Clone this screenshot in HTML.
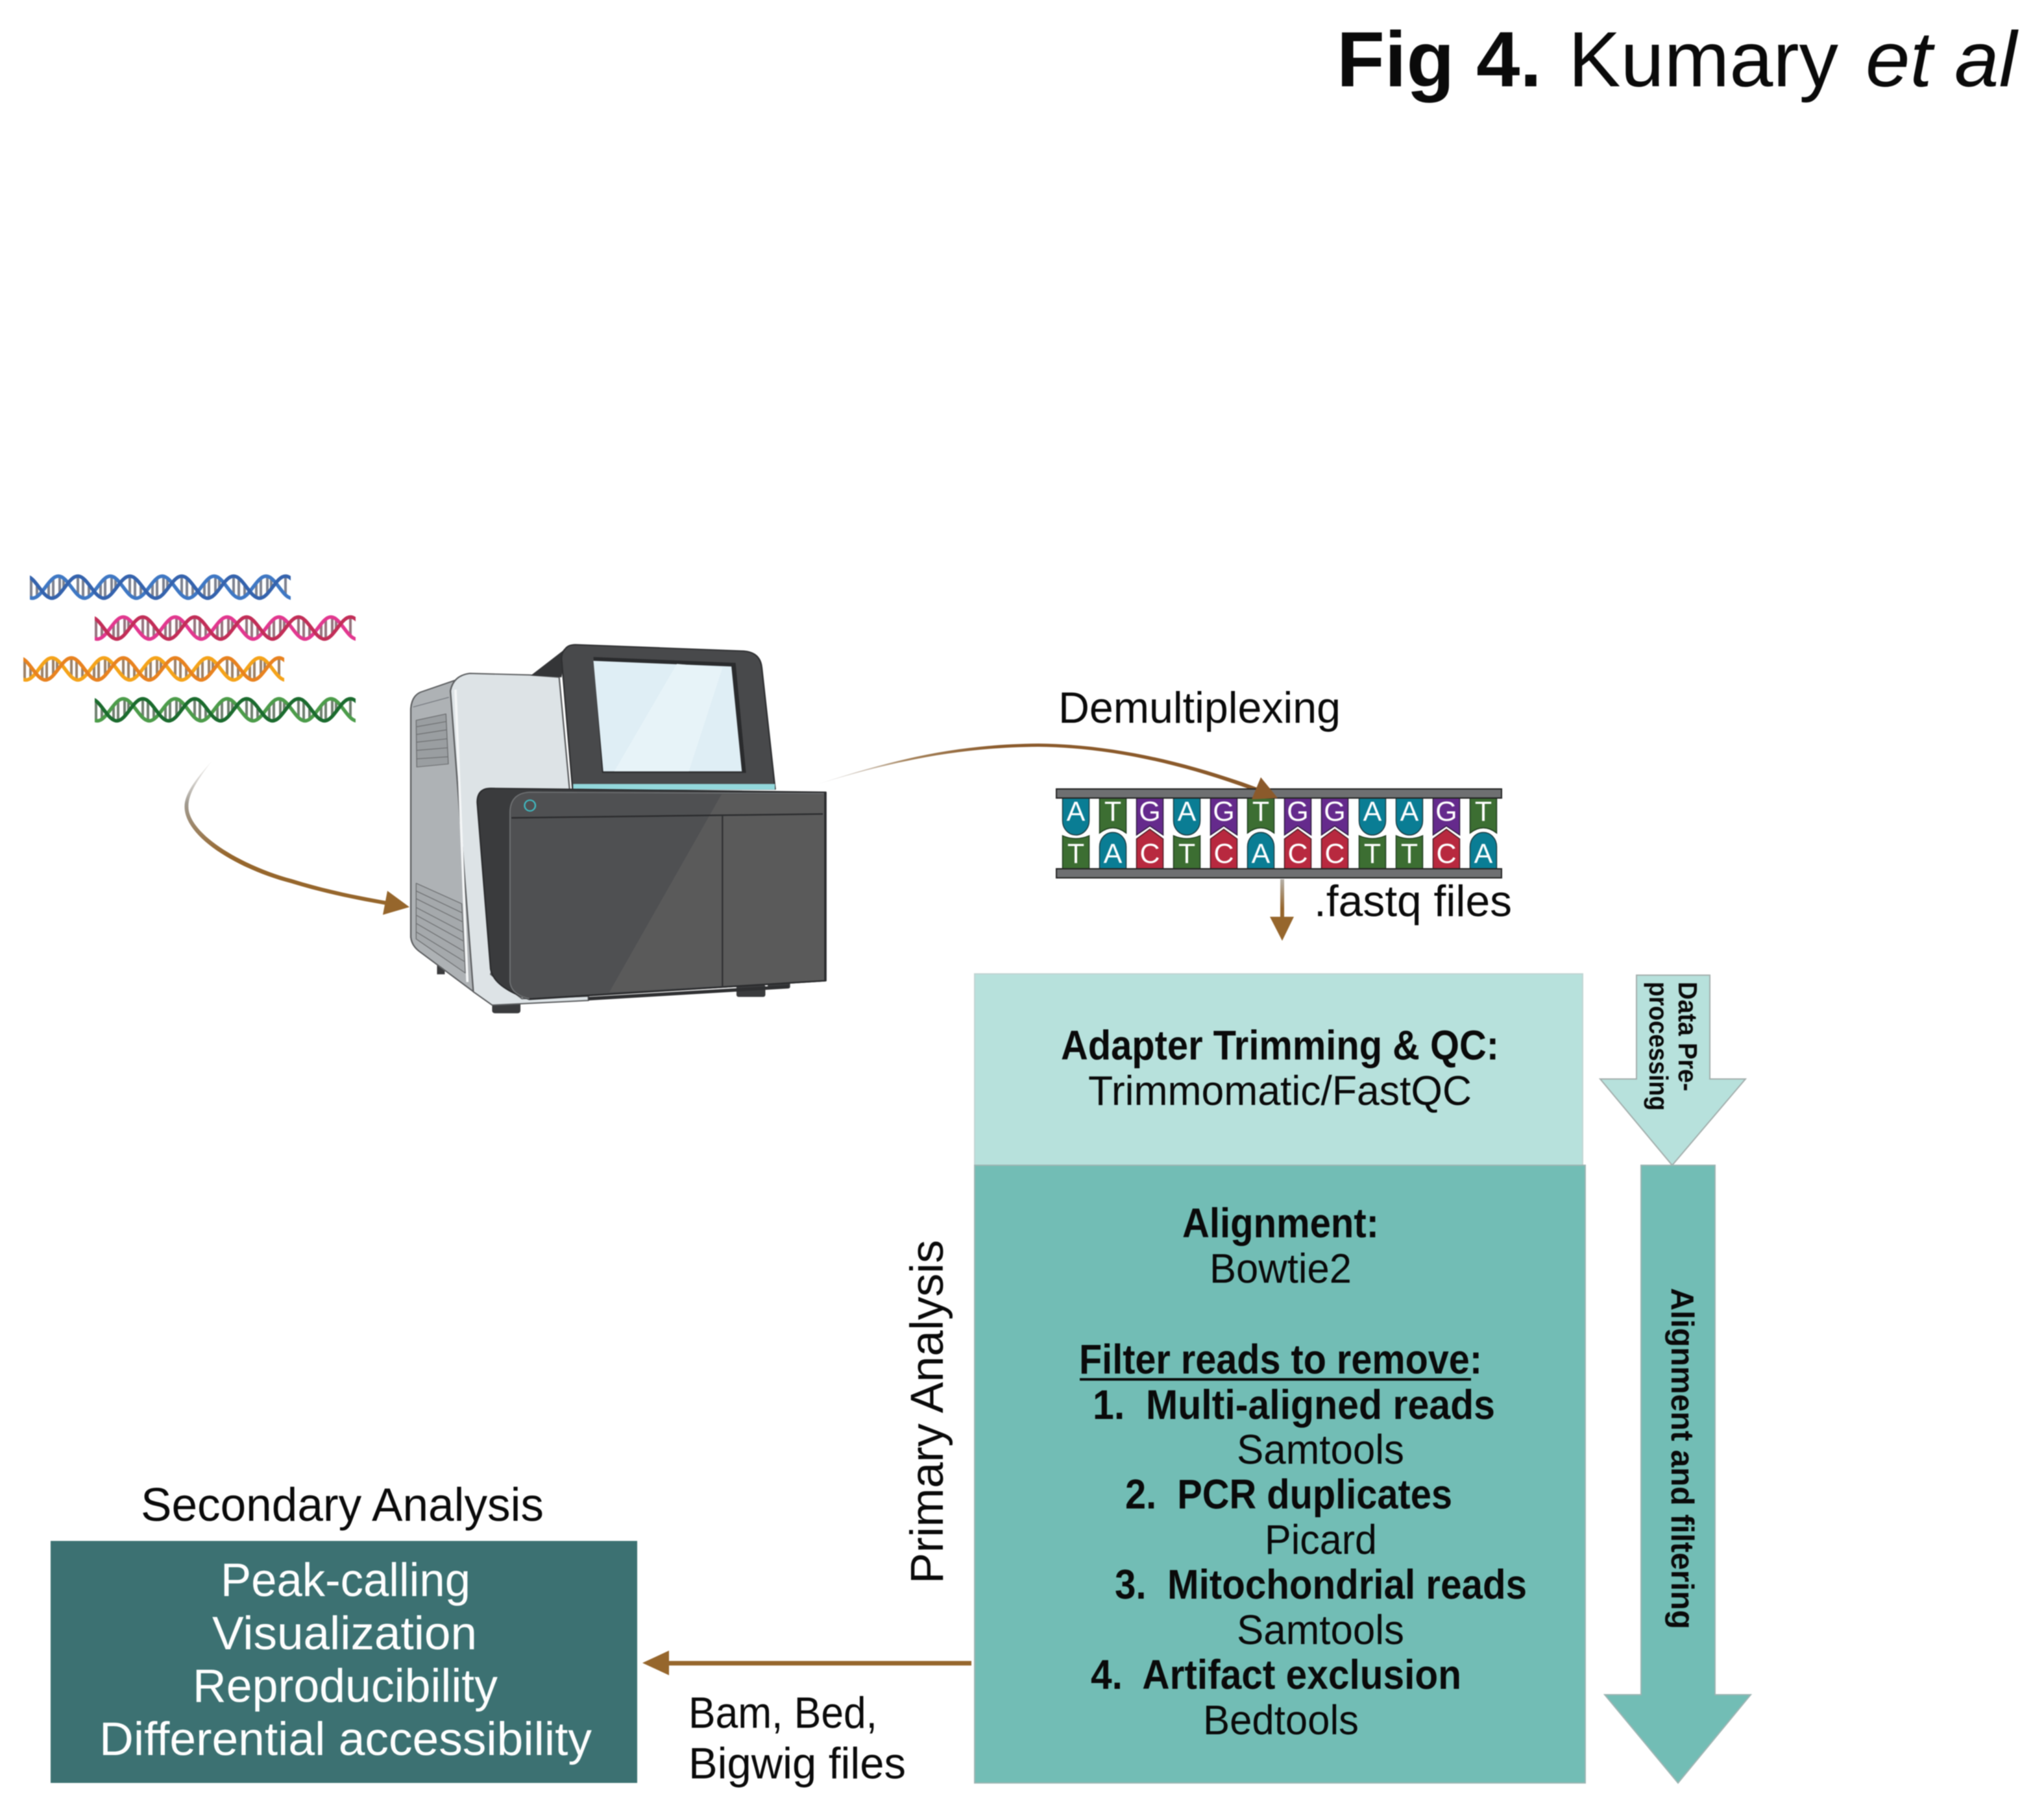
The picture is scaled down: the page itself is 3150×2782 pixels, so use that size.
<!DOCTYPE html>
<html><head><meta charset="utf-8"><title>Fig 4. Kumary et al</title>
<style>html,body{margin:0;padding:0;background:#fff}svg{display:block;filter:blur(.7px)}
text{font-family:"Liberation Sans",sans-serif;fill:#0a0a0a}
.b{font-weight:bold}
.w{fill:#fff}
.n{fill:#fff;font-size:43px;text-anchor:middle}
</style></head><body>
<svg xmlns="http://www.w3.org/2000/svg" width="3150" height="2782" viewBox="0 0 3150 2782">
<defs>
<clipPath id="hc"><rect x="0" y="-21" width="402" height="42"/></clipPath>
<path id="s1" d="M-36 -17C-21.3 -17 -10.7 17 4 17S29.3 -17 44 -17S69.3 17 84 17S109.3 -17 124 -17S149.3 17 164 17S189.3 -17 204 -17S229.3 17 244 17S269.3 -17 284 -17S309.3 17 324 17S349.3 -17 364 -17S389.3 17 404 17S429.3 -17 444 -17"/>
<path id="s2" d="M-6 -17C8.7 -17 19.3 17 34 17S59.3 -17 74 -17S99.3 17 114 17S139.3 -17 154 -17S179.3 17 194 17S219.3 -17 234 -17S259.3 17 274 17S299.3 -17 314 -17S339.3 17 354 17S379.3 -17 394 -17S419.3 17 434 17"/>
<path id="per" d="M2 -13.8V16.8M11 -4V14.5M29 -6.5V15.7M36 -13.8V16.8M46 -16.8V10M52 -13.8V2.7M74 -17V12"/>
<g id="ru"><use href="#per"/><use href="#per" x="80"/><use href="#per" x="160"/><use href="#per" x="240"/><use href="#per" x="320"/></g>
<linearGradient id="g1" gradientUnits="userSpaceOnUse" x1="326" y1="1173" x2="345" y2="1320"><stop offset="0" stop-color="#d0ccc8" stop-opacity=".3"/><stop offset=".4" stop-color="#a09a90"/><stop offset="1" stop-color="#96662c"/></linearGradient>
<linearGradient id="g2" gradientUnits="userSpaceOnUse" x1="1259" y1="1209" x2="1540" y2="1150"><stop offset="0" stop-color="#ccc" stop-opacity=".4"/><stop offset=".5" stop-color="#a5835c"/><stop offset="1" stop-color="#8b5a2b"/></linearGradient>
<linearGradient id="g3" gradientUnits="userSpaceOnUse" x1="1976" y1="1355" x2="1976" y2="1400"><stop offset="0" stop-color="#b5b0a8"/><stop offset="1" stop-color="#96662c"/></linearGradient>
<path id="tA" d="M-20.5 1230V1265A20.5 22 0 0 0 20.5 1265V1230Z" fill="#0a7d94" stroke="#1c3a40" stroke-width="1.5"/>
<path id="tT" d="M-20.5 1230V1284Q0 1268 20.5 1284V1230Z" fill="#3c6e32" stroke="#1c3a1c" stroke-width="1.5"/>
<path id="tG" d="M-20.5 1230V1287L0 1273L20.5 1287V1230Z" fill="#652a8c" stroke="#2c1a3c" stroke-width="1.5"/>
<path id="bT" d="M-20.5 1339V1288Q0 1297 20.5 1288V1339Z" fill="#3c6e32" stroke="#1c3a1c" stroke-width="1.5"/>
<path id="bA" d="M-20.5 1339V1305A20.5 22 0 0 1 20.5 1305V1339Z" fill="#0a7d94" stroke="#1c3a40" stroke-width="1.5"/>
<path id="bC" d="M-20.5 1339V1293L0 1278L20.5 1293V1339Z" fill="#b8293f" stroke="#4a1a22" stroke-width="1.5"/>
</defs>

<rect width="3150" height="2782" fill="#fff"/>

<!-- Title -->
<text x="2060" y="133" font-size="121" class="b" textLength="316" lengthAdjust="spacingAndGlyphs">Fig 4.</text>
<text x="2417" y="133" font-size="121" textLength="416" lengthAdjust="spacingAndGlyphs">Kumary</text>
<text x="2875" y="133" font-size="121" font-style="italic" textLength="233" lengthAdjust="spacingAndGlyphs">et al</text>

<!-- DNA helices -->
<g fill="none" stroke-width="5.5" stroke-linecap="round">
<g transform="translate(46,905)"><g clip-path="url(#hc)"><use href="#ru" stroke="#7d8290" stroke-width="4"/><use href="#s1" stroke="#3f78c4"/><use href="#s2" stroke="#3563ad"/></g></g>
<g transform="translate(146,968)"><g clip-path="url(#hc)"><use href="#ru" stroke="#96737e" stroke-width="4"/><use href="#s1" stroke="#e2388f"/><use href="#s2" stroke="#c22e58"/></g></g>
<g transform="translate(36,1031)"><g clip-path="url(#hc)"><use href="#ru" stroke="#9c8268" stroke-width="4"/><use href="#s1" stroke="#f5a31a"/><use href="#s2" stroke="#e8821f"/></g></g>
<g transform="translate(146,1094)"><g clip-path="url(#hc)"><use href="#ru" stroke="#6f806f" stroke-width="4"/><use href="#s1" stroke="#4c9c4a"/><use href="#s2" stroke="#1b6b2e"/></g></g>
</g>

<!-- Arrow DNA to sequencer -->
<path d="M326.5 1173C298 1205 281 1228 285 1250C293 1298 378 1343 448 1361C500 1377 550 1387 596 1395L597 1389C551 1381 501 1371 450 1355C382 1337 300 1293 291 1250C287 1228 302 1205 326.5 1173Z" fill="url(#g1)"/>
<polygon points="597,1373 631,1398 590,1410" fill="#96662c"/>

<!-- Sequencer -->
<g transform="translate(600,960) scale(.4592,.3954)" stroke-linejoin="round">
<rect x="345" y="1470" width="95" height="52" rx="10" fill="#3a3b3d"/>
<rect x="160" y="1330" width="26" height="40" fill="#3a3b3d"/>
<rect x="1165" y="1410" width="97" height="48" rx="8" fill="#3a3b3d"/>
<rect x="1270" y="1395" width="75" height="30" rx="6" fill="#3a3b3d"/>
<path d="M72 335Q75 285 105 270L225 222L285 1440L100 1280Q75 1258 72 1225Z" fill="#aeb2b5" stroke="#5c5e60" stroke-width="5"/>
<path d="M80 328L200 290" stroke="#70747a" stroke-width="3" fill="none"/>
<path d="M205 265Q215 205 270 197L470 203L570 212L605 650L340 1370L445 1465L668 1455V1472L345 1490L282 1438Z" fill="#dde3e6" stroke="#5c5e60" stroke-width="5"/>
<path d="M222 260L262 1400" stroke="#f4f6f7" stroke-width="8" fill="none"/>
<polygon points="90,380 190,355 198,550 92,562" fill="#9a9ea1" stroke="#6c6e70" stroke-width="3"/>
<path d="M92 405L190 385M92 435L192 417M92 465L193 452M92 497L195 487M92 530L197 522" stroke="#6c6e70" stroke-width="3" fill="none"/>
<polygon points="90,1015 243,1095 255,1365 90,1232" fill="#a5a9ac" stroke="#6c6e70" stroke-width="3"/>
<path d="M90 1045L244 1130M90 1075L245 1165M91 1110L247 1205M91 1140L248 1240M91 1172L250 1280M91 1205L252 1320" stroke="#6c6e70" stroke-width="3" fill="none"/>
<polygon points="475,205 592,100 578,212" fill="#343537"/>
<path d="M590 102Q600 85 625 85L1190 110Q1245 115 1250 175L1295 648H615L578 140Q578 115 590 102Z" fill="#48494b" stroke="#2e2f31" stroke-width="5"/>
<polygon points="685,133 1162,156 1197,585 714,585" fill="#2a2b2d"/>
<polygon points="685,148 1148,170 1183,579 718,579" fill="#dfeef5"/>
<polygon points="965,160 1118,175 1005,579 755,579" fill="#e7f3f8"/>
<rect x="617" y="628" width="677" height="22" fill="#93d8dc"/>
<path d="M295 700Q295 645 340 645L1465 660V1395L470 1468Q350 1420 340 1350Z" fill="#3a3b3d" stroke="#2a2b2d" stroke-width="5"/>
<path d="M405 740Q405 665 470 660L1460 665V1395L470 1465Q410 1450 405 1400Z" fill="#4f5052" stroke="#707274" stroke-width="4"/>
<polygon points="1115,668 1458,668 1458,1393 738,1440" fill="#5a5a5a"/>
<path d="M410 760L1455 745" stroke="#2b2c2e" stroke-width="6" fill="none"/>
<path d="M1118 750V1416" stroke="#2f3032" stroke-width="5" fill="none"/>
<path d="M1462 662V1395L470 1466" stroke="#2b2c2e" stroke-width="6" fill="none"/>
<path d="M668 1458L1340 1412V1425L668 1472Z" fill="#2f3032"/>
<ellipse cx="472" cy="712" rx="18" ry="21" fill="none" stroke="#3fbcc4" stroke-width="5"/>
</g>

<!-- Arrow sequencer to fastq -->
<path d="M1259 1209C1380 1169 1480 1147 1600 1146C1720 1147 1840 1177 1951 1219L1949 1225C1840 1183 1720 1152 1600 1151C1480 1152 1380 1172 1259 1209Z" fill="url(#g2)"/>

<text x="1631" y="1114" font-size="68" textLength="435" lengthAdjust="spacingAndGlyphs">Demultiplexing</text>

<!-- DNA fragment -->
<use href="#tA" x="1658"/><use href="#tT" x="1715"/><use href="#tG" x="1772"/><use href="#tA" x="1829"/><use href="#tG" x="1886"/><use href="#tT" x="1943"/><use href="#tG" x="2000"/><use href="#tG" x="2057"/><use href="#tA" x="2115"/><use href="#tA" x="2172"/><use href="#tG" x="2229"/><use href="#tT" x="2286"/>
<use href="#bT" x="1658"/><use href="#bA" x="1715"/><use href="#bC" x="1772"/><use href="#bT" x="1829"/><use href="#bC" x="1886"/><use href="#bA" x="1943"/><use href="#bC" x="2000"/><use href="#bC" x="2057"/><use href="#bT" x="2115"/><use href="#bT" x="2172"/><use href="#bC" x="2229"/><use href="#bA" x="2286"/>
<rect x="1628" y="1216" width="686" height="14" fill="#6e6f71" stroke="#222" stroke-width="2"/>
<rect x="1628" y="1339" width="686" height="14" fill="#6e6f71" stroke="#222" stroke-width="2"/>
<polygon points="1943,1198 1969,1230 1929,1232" fill="#8b5a2b"/>
<text class="n" x="1658" y="1265">A</text><text class="n" x="1715" y="1265">T</text><text class="n" x="1772" y="1265">G</text><text class="n" x="1829" y="1265">A</text><text class="n" x="1886" y="1265">G</text><text class="n" x="1943" y="1265">T</text><text class="n" x="2000" y="1265">G</text><text class="n" x="2057" y="1265">G</text><text class="n" x="2115" y="1265">A</text><text class="n" x="2172" y="1265">A</text><text class="n" x="2229" y="1265">G</text><text class="n" x="2286" y="1265">T</text>
<text class="n" x="1658" y="1330">T</text><text class="n" x="1715" y="1330">A</text><text class="n" x="1772" y="1330">C</text><text class="n" x="1829" y="1330">T</text><text class="n" x="1886" y="1330">C</text><text class="n" x="1943" y="1330">A</text><text class="n" x="2000" y="1330">C</text><text class="n" x="2057" y="1330">C</text><text class="n" x="2115" y="1330">T</text><text class="n" x="2172" y="1330">T</text><text class="n" x="2229" y="1330">C</text><text class="n" x="2286" y="1330">A</text>

<!-- fastq arrow -->
<rect x="1973" y="1355" width="6" height="60" fill="url(#g3)"/>
<polygon points="1957,1413 1994,1413 1976,1450" fill="#96662c"/>
<text x="2025" y="1412" font-size="68" textLength="305" lengthAdjust="spacingAndGlyphs">.fastq files</text>

<!-- Boxes -->
<rect x="1502" y="1501" width="937" height="295" fill="#b7e1dc" stroke="#c0d4d2" stroke-width="2"/>
<rect x="1502" y="1796" width="941" height="952" fill="#72bdb5" stroke="#9cb4b2" stroke-width="2"/>

<text x="1635" y="1633" font-size="64" class="b" textLength="675" lengthAdjust="spacingAndGlyphs">Adapter Trimming &amp; QC:</text>
<text x="1677" y="1703" font-size="64" textLength="591" lengthAdjust="spacingAndGlyphs">Trimmomatic/FastQC</text>
<text x="1822" y="1907" font-size="64" class="b" textLength="303" lengthAdjust="spacingAndGlyphs">Alignment:</text>
<text x="1864" y="1977" font-size="64" textLength="219" lengthAdjust="spacingAndGlyphs">Bowtie2</text>
<text x="1663" y="2117" font-size="64" class="b" textLength="621" lengthAdjust="spacingAndGlyphs">Filter reads to remove:</text>
<rect x="1664" y="2124" width="603" height="4" fill="#0a0a0a"/>
<text x="1684" y="2187" font-size="64" class="b" textLength="620" lengthAdjust="spacingAndGlyphs" xml:space="preserve">1.  Multi-aligned reads</text>
<text x="1906" y="2256" font-size="64" textLength="258" lengthAdjust="spacingAndGlyphs">Samtools</text>
<text x="1734" y="2325" font-size="64" class="b" textLength="504" lengthAdjust="spacingAndGlyphs" xml:space="preserve">2.  PCR duplicates</text>
<text x="1949" y="2395" font-size="64" textLength="173" lengthAdjust="spacingAndGlyphs">Picard</text>
<text x="1718" y="2464" font-size="64" class="b" textLength="635" lengthAdjust="spacingAndGlyphs" xml:space="preserve">3.  Mitochondrial reads</text>
<text x="1906" y="2534" font-size="64" textLength="258" lengthAdjust="spacingAndGlyphs">Samtools</text>
<text x="1681" y="2603" font-size="64" class="b" textLength="571" lengthAdjust="spacingAndGlyphs" xml:space="preserve">4.  Artifact exclusion</text>
<text x="1854" y="2673" font-size="64" textLength="240" lengthAdjust="spacingAndGlyphs">Bedtools</text>

<text transform="translate(1453,2441) rotate(-90)" font-size="71" textLength="530" lengthAdjust="spacingAndGlyphs">Primary Analysis</text>

<!-- Side arrows -->
<polygon points="2522,1503 2635,1503 2635,1663 2690,1663 2577,1796 2466,1663 2522,1663" fill="#b7e1dc" stroke="#a3aeac" stroke-width="2"/>
<text transform="translate(2587,1513) rotate(90)" font-size="41" class="b" textLength="169" lengthAdjust="spacingAndGlyphs">Data Pre-</text>
<text transform="translate(2542,1513) rotate(90)" font-size="41" class="b" textLength="199" lengthAdjust="spacingAndGlyphs">processing</text>
<polygon points="2529,1796 2643,1796 2643,2612 2698,2612 2586,2748 2473,2612 2529,2612" fill="#72bdb5" stroke="#9cb4b2" stroke-width="2"/>
<text transform="translate(2576,1985) rotate(90)" font-size="49" class="b" textLength="526" lengthAdjust="spacingAndGlyphs">Alignment and filtering</text>

<!-- Secondary -->
<text x="217" y="2344" font-size="72" textLength="621" lengthAdjust="spacingAndGlyphs">Secondary Analysis</text>
<rect x="78" y="2375" width="904" height="373" fill="#3c7172"/>
<text class="w" x="340" y="2460" font-size="72" textLength="385" lengthAdjust="spacingAndGlyphs">Peak-calling</text>
<text class="w" x="327" y="2542" font-size="72" textLength="408" lengthAdjust="spacingAndGlyphs">Visualization</text>
<text class="w" x="297" y="2623" font-size="72" textLength="470" lengthAdjust="spacingAndGlyphs">Reproducibility</text>
<text class="w" x="153" y="2705" font-size="72" textLength="759" lengthAdjust="spacingAndGlyphs">Differential accessibility</text>

<!-- Bottom arrow -->
<rect x="1028" y="2560" width="469" height="7" fill="#96662c"/>
<polygon points="1031,2544 1031,2582 990,2563" fill="#96662c"/>
<text x="1061" y="2663" font-size="68" textLength="291" lengthAdjust="spacingAndGlyphs">Bam, Bed,</text>
<text x="1061" y="2741" font-size="68" textLength="335" lengthAdjust="spacingAndGlyphs">Bigwig files</text>
</svg>
</body></html>
